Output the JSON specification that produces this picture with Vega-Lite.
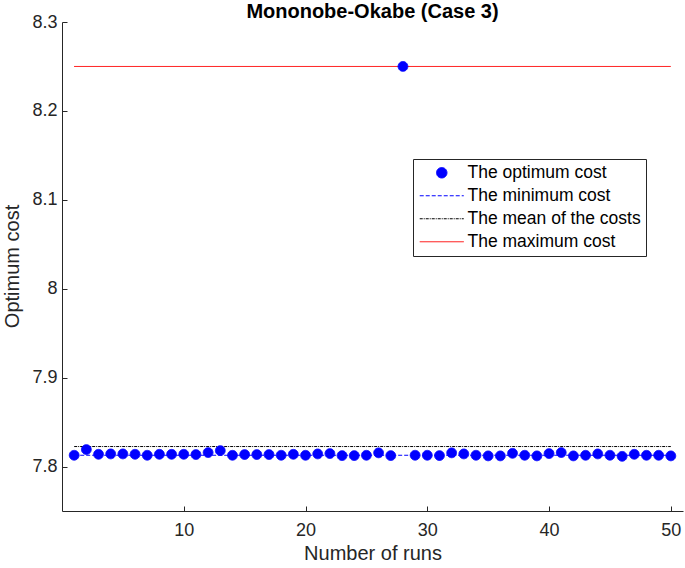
{
  "$schema": "https://vega.github.io/schema/vega-lite/v6.json",
  "width": 621,
  "height": 489,
  "autosize": {"type": "none"},
  "padding": {"left": 62, "top": 22, "right": 2, "bottom": 57},
  "background": "white",
  "title": {
    "text": "Mononobe-Okabe (Case 3)",
    "font": "Liberation Sans",
    "fontSize": 20,
    "fontWeight": "bold",
    "color": "#000000",
    "anchor": "middle",
    "baseline": "middle",
    "offset": 2,
    "dy": 21
  },
  "datasets": {
    "runs": [
      {"run": 1, "cost": 7.8127}, {"run": 2, "cost": 7.8191}, {"run": 3, "cost": 7.8138}, {"run": 4, "cost": 7.8142},
      {"run": 5, "cost": 7.8142}, {"run": 6, "cost": 7.8138}, {"run": 7, "cost": 7.8127}, {"run": 8, "cost": 7.8138},
      {"run": 9, "cost": 7.8138}, {"run": 10, "cost": 7.8138}, {"run": 11, "cost": 7.8135}, {"run": 12, "cost": 7.8157},
      {"run": 13, "cost": 7.8179}, {"run": 14, "cost": 7.8127}, {"run": 15, "cost": 7.8135}, {"run": 16, "cost": 7.8135},
      {"run": 17, "cost": 7.8135}, {"run": 18, "cost": 7.8127}, {"run": 19, "cost": 7.8138}, {"run": 20, "cost": 7.8127},
      {"run": 21, "cost": 7.8142}, {"run": 22, "cost": 7.8146}, {"run": 23, "cost": 7.8123}, {"run": 24, "cost": 7.8123},
      {"run": 25, "cost": 7.8127}, {"run": 26, "cost": 7.8154}, {"run": 27, "cost": 7.8123}, {"run": 28, "cost": 8.25},
      {"run": 29, "cost": 7.8127}, {"run": 30, "cost": 7.8127}, {"run": 31, "cost": 7.8123}, {"run": 32, "cost": 7.8154},
      {"run": 33, "cost": 7.8142}, {"run": 34, "cost": 7.8127}, {"run": 35, "cost": 7.812}, {"run": 36, "cost": 7.812},
      {"run": 37, "cost": 7.8149}, {"run": 38, "cost": 7.8127}, {"run": 39, "cost": 7.812}, {"run": 40, "cost": 7.8146},
      {"run": 41, "cost": 7.8157}, {"run": 42, "cost": 7.812}, {"run": 43, "cost": 7.8127}, {"run": 44, "cost": 7.8142},
      {"run": 45, "cost": 7.8127}, {"run": 46, "cost": 7.8115}, {"run": 47, "cost": 7.8138}, {"run": 48, "cost": 7.8127},
      {"run": 49, "cost": 7.8127}, {"run": 50, "cost": 7.812}
    ],
    "lines": [
      {"series": "The minimum cost", "start": 1, "end": 50, "cost": 7.8127},
      {"series": "The mean of the costs", "start": 1, "end": 50, "cost": 7.8225},
      {"series": "The maximum cost", "start": 1, "end": 50, "cost": 8.25}
    ]
  },
  "config": {
    "view": {"stroke": null},
    "font": "Liberation Sans",
    "axis": {
      "grid": false,
      "domainColor": "#262626",
      "domainWidth": 1,
      "tickColor": "#262626",
      "tickWidth": 1,
      "tickSize": -5,
      "labelFont": "Liberation Sans",
      "labelFontSize": 18,
      "labelColor": "#262626",
      "titleFont": "Liberation Sans",
      "titleFontSize": 20,
      "titleFontWeight": "normal",
      "titleColor": "#262626"
    },
    "legend": {
      "orient": "none",
      "legendX": 351,
      "legendY": 137,
      "strokeColor": "#262626",
      "fillColor": "#ffffff",
      "padding": 5,
      "cornerRadius": 0,
      "symbolSize": 110,
      "symbolStrokeWidth": 1,
      "symbolOffset": 15,
      "labelFont": "Liberation Sans",
      "labelFontSize": 17.5,
      "labelColor": "#000000",
      "labelOffset": 17,
      "labelLimit": 400,
      "rowPadding": 4,
      "title": null
    }
  },
  "layer": [
    {
      "data": {"name": "lines"},
      "mark": {"type": "rule", "strokeWidth": 1},
      "encoding": {
        "x": {"field": "start", "type": "quantitative"},
        "x2": {"field": "end"},
        "y": {"field": "cost", "type": "quantitative"},
        "stroke": {
          "field": "series",
          "type": "nominal",
          "scale": {
            "domain": ["The optimum cost", "The minimum cost", "The mean of the costs", "The maximum cost"],
            "range": ["#0000ff", "#0000ff", "#000000", "#ff0000"]
          },
          "legend": {"title": null}
        },
        "strokeDash": {
          "field": "series",
          "type": "nominal",
          "scale": {
            "domain": ["The optimum cost", "The minimum cost", "The mean of the costs", "The maximum cost"],
            "range": [[1, 0], [4, 2], [3, 1, 1, 1], [1, 0]]
          },
          "legend": {"title": null}
        }
      }
    },
    {
      "data": {"name": "runs"},
      "mark": {"type": "point", "opacity": 1, "size": 95, "strokeWidth": 1},
      "encoding": {
        "x": {
          "field": "run",
          "type": "quantitative",
          "scale": {"domain": [0, 51], "nice": false, "zero": false},
          "axis": {"values": [10, 20, 30, 40, 50], "title": "Number of runs", "titleBaseline": "middle", "titleY": 42, "labelPadding": 15}
        },
        "y": {
          "field": "cost",
          "type": "quantitative",
          "scale": {"domain": [7.75, 8.3], "nice": false, "zero": false},
          "axis": {"values": [7.8, 7.9, 8, 8.1, 8.2, 8.3], "labelExpr": "format(datum.value, '~g')", "title": "Optimum cost", "titleAngle": -90, "titleBaseline": "middle", "titleX": -50, "titleY": 244, "labelPadding": 10}
        },
        "fill": {
          "datum": "The optimum cost",
          "type": "nominal",
          "scale": {
            "domain": ["The optimum cost", "The minimum cost", "The mean of the costs", "The maximum cost"],
            "range": ["#0000ff", "transparent", "transparent", "transparent"]
          },
          "legend": {"title": null}
        },
        "stroke": {"datum": "The optimum cost", "type": "nominal"},
        "strokeDash": {"datum": "The optimum cost", "type": "nominal"},
        "shape": {
          "datum": "The optimum cost",
          "type": "nominal",
          "scale": {
            "domain": ["The optimum cost", "The minimum cost", "The mean of the costs", "The maximum cost"],
            "range": ["circle", "M-4.2,0H4.2", "M-4.2,0H4.2", "M-4.2,0H4.2"]
          },
          "legend": {"title": null}
        }
      }
    }
  ]
}
